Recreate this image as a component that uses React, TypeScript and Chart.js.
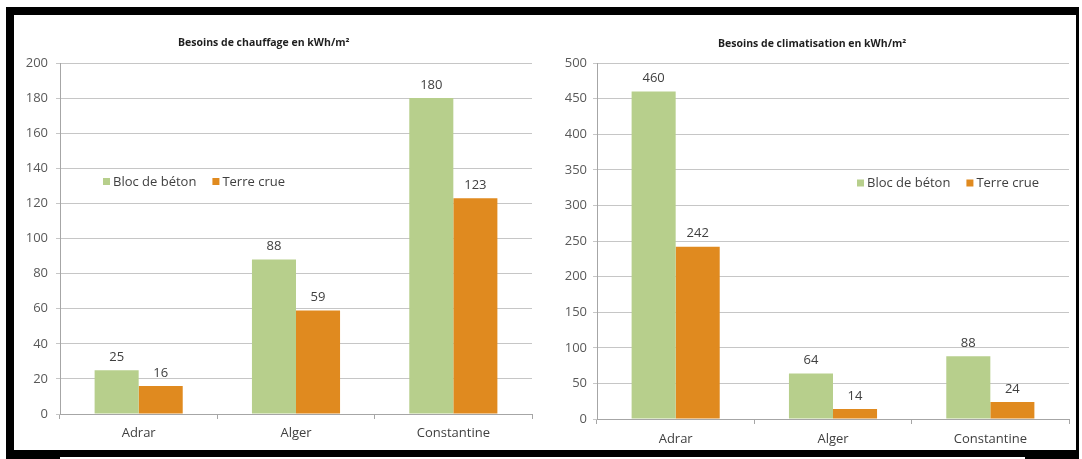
import React, { useEffect, useRef } from "react";
import { Chart, registerables } from "chart.js";

Chart.register(...registerables);

// ---- data ----
const categories = ["Adrar", "Alger", "Constantine"];
const seriesNames = ["Bloc de béton", "Terre crue"];
const heatingBeton = [25, 88, 180];
const heatingTerre = [16, 59, 123];
const coolingBeton = [460, 64, 88];
const coolingTerre = [242, 14, 24];
const heatingAxis = [0, 200, 20]; // min, max, step
const coolingAxis = [0, 500, 50];
const heatingTitle = "Besoins de chauffage en kWh/m²";
const coolingTitle = "Besoins de climatisation en kWh/m²";

const GREEN = "#b7cf8c";
const ORANGE = "#e08a1f";
const FONT = "'Open Sans', 'DejaVu Sans', sans-serif";

const decorPlugin = {
  id: "decor",
  afterDatasetsDraw(chart: any, _args: any, opts: any) {
    const ctx = chart.ctx;
    ctx.save();
    // data labels
    ctx.font = `13px ${FONT}`;
    ctx.fillStyle = "#404040";
    ctx.textAlign = "center";
    ctx.textBaseline = "middle";
    chart.data.datasets.forEach((ds: any, i: number) => {
      const meta = chart.getDatasetMeta(i);
      meta.data.forEach((el: any, j: number) => {
        ctx.fillText(String(ds.data[j]), el.x, el.y - opts.labelOffset);
      });
    });
    // title
    ctx.font = `bold 10.5px ${FONT}`;
    ctx.fillStyle = "#1e1e1e";
    ctx.textAlign = "left";
    ctx.fillText(opts.title, opts.titleX, opts.titleY);
    // legend
    let x = opts.legendX;
    ctx.font = `13px ${FONT}`;
    chart.data.datasets.forEach((ds: any) => {
      ctx.fillStyle = ds.backgroundColor;
      ctx.fillRect(x, opts.legendY - 3.5, 7, 7);
      x += 10;
      ctx.fillStyle = "#404040";
      ctx.fillText(ds.label, x, opts.legendY + 0.5);
      x += ctx.measureText(ds.label).width + opts.legendGap;
    });
    ctx.restore();
  },
};

function makeConfig(
  beton: number[],
  terre: number[],
  axis: number[],
  p: {
    yWidth: number;
    xHeight: number;
    top: number;
    right: number;
    yPad: number;
    xPad: number;
    title: string;
    titleX: number;
    titleY: number;
    legendX: number;
    legendY: number;
  }
): any {
  return {
    type: "bar",
    data: {
      labels: categories,
      datasets: [
        { label: seriesNames[0], data: beton, backgroundColor: GREEN, borderWidth: 0 },
        { label: seriesNames[1], data: terre, backgroundColor: ORANGE, borderWidth: 0 },
      ],
    },
    options: {
      responsive: false,
      animation: false,
      devicePixelRatio: 1,
      layout: { padding: { left: 0, top: p.top, right: p.right, bottom: 0 } },
      datasets: { bar: { categoryPercentage: 0.56, barPercentage: 1 } },
      plugins: {
        legend: { display: false },
        title: { display: false },
        tooltip: { enabled: false },
        decor: {
          labelOffset: 13,
          title: p.title,
          titleX: p.titleX,
          titleY: p.titleY,
          legendX: p.legendX,
          legendY: p.legendY,
          legendGap: 16,
        },
      },
      scales: {
        x: {
          offset: true,
          afterFit: (s: any) => {
            s.height = p.xHeight;
          },
          grid: {
            offset: true,
            drawOnChartArea: false,
            drawTicks: true,
            tickLength: 5,
            color: "#a6a6a6",
          },
          border: { display: true, color: "#a6a6a6", width: 1 },
          ticks: {
            color: "#404040",
            font: { family: FONT, size: 13 },
            padding: p.xPad,
            maxRotation: 0,
            autoSkip: false,
          },
        },
        y: {
          min: axis[0],
          max: axis[1],
          afterFit: (s: any) => {
            s.width = p.yWidth;
          },
          grid: { color: "#c6c6c6", tickLength: 4, drawTicks: true },
          border: { display: true, color: "#a6a6a6", width: 1 },
          ticks: {
            stepSize: axis[2],
            color: "#595959",
            font: { family: FONT, size: 13 },
            padding: p.yPad,
            autoSkip: false,
          },
        },
      },
    },
    plugins: [decorPlugin],
  };
}

function ChartCanvas({ config, left, top, width, height }: any) {
  const ref = useRef<HTMLCanvasElement | null>(null);
  useEffect(() => {
    if (!ref.current) return;
    const chart = new Chart(ref.current, config);
    return () => chart.destroy();
  }, []);
  return (
    <canvas
      ref={ref}
      width={width}
      height={height}
      style={{ position: "absolute", left, top, width, height }}
    />
  );
}

export default function App() {
  const leftCfg = makeConfig(heatingBeton, heatingTerre, heatingAxis, {
    yWidth: 46,
    xHeight: 36,
    top: 48,
    right: 9,
    yPad: 8,
    xPad: 6,
    title: heatingTitle,
    titleX: 164,
    titleY: 28,
    legendX: 89,
    legendY: 166.5,
  });
  const rightCfg = makeConfig(coolingBeton, coolingTerre, coolingAxis, {
    yWidth: 56,
    xHeight: 31,
    top: 48,
    right: 7,
    yPad: 6,
    xPad: 7,
    title: coolingTitle,
    titleX: 177,
    titleY: 29,
    legendX: 316,
    legendY: 168,
  });
  return (
    <div
      style={{
        position: "absolute",
        left: 0,
        top: 0,
        width: 1082,
        height: 459,
        background: "#ffffff",
        overflow: "hidden",
      }}
    >
      <div style={{ position: "absolute", left: 6, top: 7, width: 1073, height: 452, background: "#000" }} />
      <div style={{ position: "absolute", left: 14, top: 15, width: 1062, height: 435, background: "#fff" }} />
      <div style={{ position: "absolute", left: 60, top: 457, width: 965, height: 2, background: "#fff" }} />
      <ChartCanvas config={leftCfg} left={14} top={15} width={527} height={435} />
      <ChartCanvas config={rightCfg} left={541} top={15} width={535} height={435} />
    </div>
  );
}
